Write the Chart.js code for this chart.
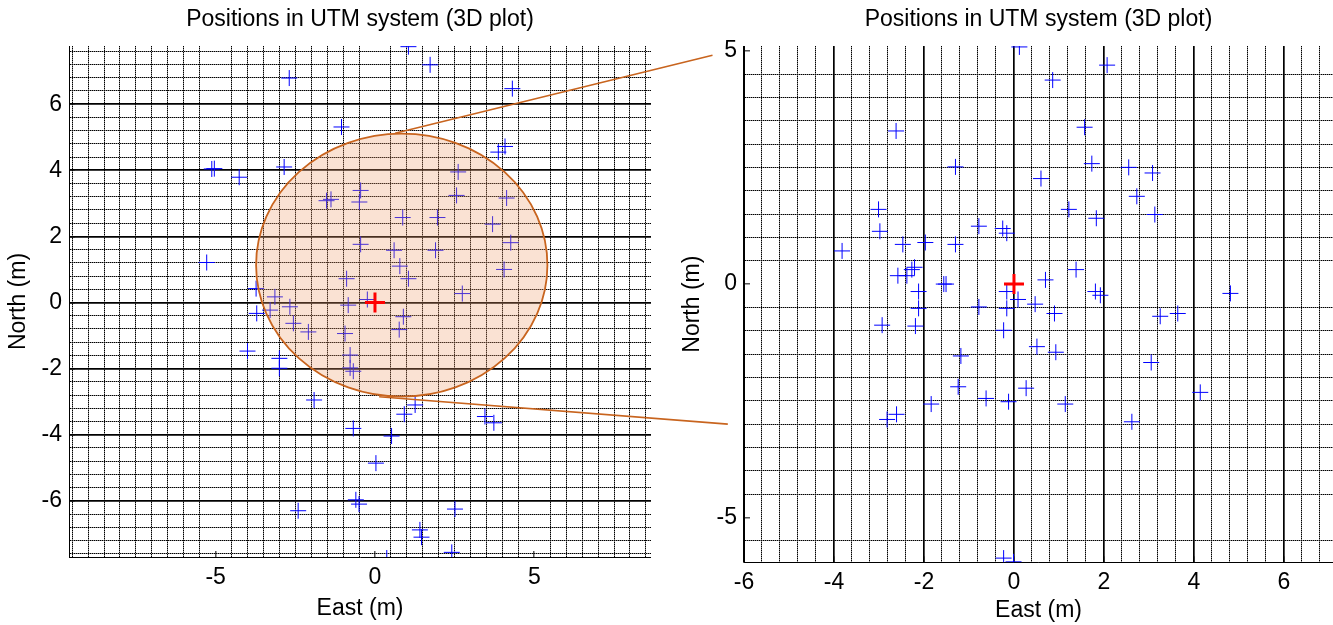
<!DOCTYPE html>
<html>
<head>
<meta charset="utf-8">
<script src="https://cdn.jsdelivr.net/npm/chart.js@4/dist/chart.umd.min.js"></script>
<style>
  html, body { margin: 0; padding: 0; background: #fff; overflow: hidden; }
  #wrap { position: relative; width: 1333px; height: 625px; overflow: hidden; }
  #left { position: absolute; left: 0; top: 0; }
  #right { position: absolute; left: 670px; top: 0; }
  #links { position: absolute; left: 0; top: 0; pointer-events: none; }
</style>
</head>
<body>
<div id="wrap">
  <canvas id="left" width="651" height="625"></canvas>
  <canvas id="right" width="663" height="625"></canvas>
  <canvas id="links" width="1333" height="625"></canvas>
</div>
<script>
// left panel: positions, east / north in metres
const leftEast = [-2.69, -1.05, -5.04, -5.12, -4.26, -2.85, -5.28, -3.73, -3.14, -1.52, -1.38, -0.89, -0.84,
  1.05, 1.73, 4.31, 4.08, 3.87, 2.61, 2.56, 4.13, -0.45, -0.49, 0.87, 1.96, 3.69, 4.26, -0.45, 0.60, 1.90,
  0.78, 1.05, 4.05, 2.74, -0.24, -3.71, -3.29, -2.67, -2.56, -2.09, -0.94, -0.78, -0.78, -0.68, -4.00,
  -3.00, -3.00, -1.91, -0.68, -2.41, -0.60, -0.50, 0.89, 0.76, 1.26, 0.92, 0.52, 0.03, 2.51, 1.41, 1.46,
  2.41, 0.37, 3.45, 3.73];
const leftNorth = [6.79, 5.31, 4.05, 4.04, 3.79, 4.10, 1.21, 0.42, 0.17, 3.08, 3.12, 0.72, -0.08,
  7.74, 7.19, 6.47, 4.72, 4.55, 3.95, 3.24, 3.16, 3.39, 3.04, 2.57, 2.57, 2.37, 1.81, 1.76, 1.58, 1.58,
  1.10, 0.72, 1.00, 0.27, 0.09, -0.33, -0.23, -0.13, -0.63, -0.89, -0.94, -1.59, -1.98, -2.08, -1.47,
  -1.69, -1.99, -2.95, -3.81, -6.30, -5.97, -6.10, -0.43, -0.82, -3.10, -3.38, -4.04, -4.86, -6.25, -6.88, -7.10,
  -7.56, -7.73, -3.45, -3.64];

// right panel (zoomed view)
const rightEast = [0.12, -2.62, -1.30, -3.01, -2.98, -3.82, -2.47, -1.97, -1.30, -0.78, -0.25, -0.16,
  -2.21, -2.27, -2.58, -2.38, -2.12, -1.56, -1.51, -0.16, 0.09, -0.78, -0.16, -2.12, 2.07, 0.86, 1.57,
  1.73, 2.55, 3.08, 0.60, 2.73, 1.22, 1.83, 3.13, 1.38, 0.70, 1.81, 1.92, 4.81, 0.47, 0.90, 3.25, 3.64,
  -2.93, -2.19, -0.23, -1.18, -1.24, 0.27, -0.62, -0.12, -1.84, -2.61, -2.82, -0.23, -0.01, 0.51, 0.93,
  3.05, 1.14, 2.62, 4.14];
const rightNorth = [5.08, 3.28, 2.51, 1.60, 1.13, 0.71, 0.85, 0.89, 0.85, 1.24, 1.19, 1.09,
  0.36, 0.31, 0.18, 0.18, -0.16, 0.00, 0.00, -0.16, -0.33, -0.49, -0.52, -0.52, 4.69, 4.37, 3.36,
  2.58, 2.50, 2.38, 2.26, 1.88, 1.60, 1.41, 1.49, 0.31, 0.09, -0.16, -0.24, -0.20, -0.43, -0.63, -0.69, -0.63,
  -0.88, -0.90, -0.99, -1.54, -2.20, -2.23, -2.45, -2.52, -2.57, -2.79, -2.90, -5.87, -5.95, -1.34, -1.46,
  -1.68, -2.57, -2.95, -2.32];

// reference position (red cross)
const refEast = [0];
const refNorth = [0];

// tick labels
const leftXLabels = [-5, 0, 5];
const leftYLabels = [-6, -4, -2, 0, 2, 4, 6];
const rightXLabels = [-6, -4, -2, 0, 2, 4, 6];
const rightYLabels = [-5, 0, 5];

// confidence ellipse on the left panel (data units)
const ellipseCentre = [0.84, 1.13];
const ellipseRadii = [4.57, 3.98];

// zoom links: left panel point -> right panel point (data units of each panel)
const linkFrom = [[0.63, 5.12], [0.13, -2.85]];
const linkTo = [[-6.70, 4.90], [-6.36, -3.00]];

const FONT = "'Liberation Sans', Arial, sans-serif";
const FONT_SIZE = 23;
const EDGE = '#C8641E';
const TICK_IN = 6; // inward tick marks, matlab style

const onStep = (v, step) => Math.abs(v / step - Math.round(v / step)) < 1e-6;

function gridTicks(min, max, step) {
  const vals = [];
  for (let k = Math.ceil(min / step - 1e-9); k * step <= max + 1e-9; k++) {
    vals.push(Math.round(k * step * 1000) / 1000);
  }
  return vals;
}

// visible axis: labels, title, major grid and dotted minor grid
function axis(o) {
  const isMajor = v => onStep(v, o.majorStep);
  const labelled = c => c.tick && o.labels.includes(c.tick.value);
  const horizontal = o.pos === 'bottom';
  return {
    type: 'linear',
    position: o.pos,
    min: o.min,
    max: o.max,
    afterBuildTicks: s => { s.ticks = gridTicks(o.min, o.max, o.step).map(value => ({ value })); },
    afterFit: s => {
      if (horizontal) s.height = o.size; else s.width = o.size;
      s.paddingLeft = s.paddingRight = s.paddingTop = s.paddingBottom = 0;
    },
    ticks: {
      autoSkip: false,
      maxRotation: 0,
      minRotation: 0,
      padding: 7 + TICK_IN,
      color: '#000',
      font: { family: FONT, size: FONT_SIZE },
      callback: v => o.labels.includes(v) ? String(v) : '',
    },
    grid: {
      drawTicks: true,
      tickLength: -TICK_IN,
      tickWidth: 1,
      tickColor: c => labelled(c) ? '#000' : 'transparent',
      color: c => {
        if (!c.tick) return 'transparent';
        if (isMajor(c.tick.value)) return o.showMajor ? '#000' : 'transparent';
        return '#000';
      },
      lineWidth: c => (c.tick && isMajor(c.tick.value)) ? 1.7 : 1,
    },
    border: {
      display: true,
      color: '#000',
      width: 1,
      dash: c => (c.tick && !isMajor(c.tick.value)) ? [1, 1] : [],
    },
    title: {
      display: true,
      text: o.title,
      color: '#000',
      font: { family: FONT, size: FONT_SIZE },
      padding: o.titlePad,
    },
  };
}

// hidden twin axis: grey backing under the dotted minor lines
function underlay(o) {
  const isMajor = v => onStep(v, o.majorStep);
  const horizontal = o.pos === 'bottom';
  return {
    type: 'linear',
    axis: horizontal ? 'x' : 'y',
    position: o.pos,
    min: o.min,
    max: o.max,
    weight: 1,
    afterBuildTicks: s => { s.ticks = gridTicks(o.min, o.max, o.step).map(value => ({ value })); },
    afterFit: s => {
      if (horizontal) s.height = 0; else s.width = 0;
      s.paddingLeft = s.paddingRight = s.paddingTop = s.paddingBottom = 0;
    },
    ticks: { display: false },
    grid: {
      z: -2,
      drawTicks: false,
      color: c => (c.tick && !isMajor(c.tick.value)) ? '#8a8a8a' : 'transparent',
      lineWidth: 1,
    },
    border: { display: false },
    title: { display: false },
  };
}

function crossSets(east, north) {
  return [
    {
      label: 'reference',
      data: refEast.map((e, i) => ({ x: e, y: refNorth[i] })),
      pointStyle: 'cross',
      pointRadius: 10,
      pointBorderWidth: 3,
      pointBorderColor: '#FF0000',
      showLine: false,
    },
    {
      label: 'positions',
      data: east.map((e, i) => ({ x: e, y: north[i] })),
      pointStyle: 'cross',
      pointRadius: 8,
      pointBorderWidth: 1,
      pointBorderColor: '#0000FF',
      showLine: false,
    },
  ];
}

function baseOptions(xo, yo) {
  return {
    responsive: false,
    animation: false,
    events: [],
    layout: { padding: 0, autoPadding: false },
    plugins: {
      legend: { display: false },
      tooltip: { enabled: false },
      title: {
        display: true,
        fullSize: false,
        text: 'Positions in UTM system (3D plot)',
        color: '#000',
        font: { family: FONT, size: FONT_SIZE, weight: 'normal' },
        padding: { top: 6, bottom: 12.4 },
      },
    },
    scales: { x: axis(xo), y: axis(yo), xg: underlay(xo), yg: underlay(yo) },
  };
}

// draws the shaded ellipse over the blue crosses, under the red one
const ellipsePlugin = {
  id: 'errorEllipse',
  beforeDatasetDraw(chart, args) {
    if (args.index !== 0) return;
    const { ctx, scales: { x, y } } = chart;
    const cx = x.getPixelForValue(ellipseCentre[0]);
    const cy = y.getPixelForValue(ellipseCentre[1]);
    const rx = Math.abs(x.getPixelForValue(ellipseCentre[0] + ellipseRadii[0]) - cx);
    const ry = Math.abs(y.getPixelForValue(ellipseCentre[1] + ellipseRadii[1]) - cy);
    ctx.save();
    ctx.beginPath();
    ctx.ellipse(cx, cy, rx, ry, 0, 0, Math.PI * 2);
    ctx.fillStyle = 'rgba(240,160,110,0.3)';
    ctx.fill();
    ctx.lineWidth = 1.8;
    ctx.strokeStyle = EDGE;
    ctx.stroke();
    ctx.restore();
  },
};

const leftChart = new Chart(document.getElementById('left'), {
  type: 'scatter',
  data: { datasets: crossSets(leftEast, leftNorth) },
  options: baseOptions(
    { pos: 'bottom', min: -9.6, max: 8.66, step: 0.5, majorStep: 5, showMajor: false,
      labels: leftXLabels, title: 'East (m)', size: 68, titlePad: { top: 0, bottom: 3 } },
    { pos: 'left', min: -7.7, max: 7.76, step: 0.4, majorStep: 2, showMajor: true,
      labels: leftYLabels, title: 'North (m)', size: 69, titlePad: { top: 5, bottom: 0 } }),
  plugins: [ellipsePlugin],
});

const rightChart = new Chart(document.getElementById('right'), {
  type: 'scatter',
  data: { datasets: crossSets(rightEast, rightNorth) },
  options: baseOptions(
    { pos: 'bottom', min: -6, max: 7.09, step: 0.4, majorStep: 2, showMajor: true,
      labels: rightXLabels, title: 'East (m)', size: 62.7, titlePad: { top: 0, bottom: 1 } },
    { pos: 'left', min: -5.96, max: 5.1, step: 0.5, majorStep: 5, showMajor: false,
      labels: rightYLabels, title: 'North (m)', size: 74, titlePad: { top: 9, bottom: 0 } }),
});

// connecting lines between the panels
(function drawLinks() {
  const ctx = document.getElementById('links').getContext('2d');
  const lOff = leftChart.canvas.offsetLeft;
  const rOff = rightChart.canvas.offsetLeft;
  ctx.strokeStyle = EDGE;
  ctx.lineWidth = 1.6;
  linkFrom.forEach((from, i) => {
    const to = linkTo[i];
    ctx.beginPath();
    ctx.moveTo(lOff + leftChart.scales.x.getPixelForValue(from[0]), leftChart.scales.y.getPixelForValue(from[1]));
    ctx.lineTo(rOff + rightChart.scales.x.getPixelForValue(to[0]), rightChart.scales.y.getPixelForValue(to[1]));
    ctx.stroke();
  });
})();
</script>
</body>
</html>
